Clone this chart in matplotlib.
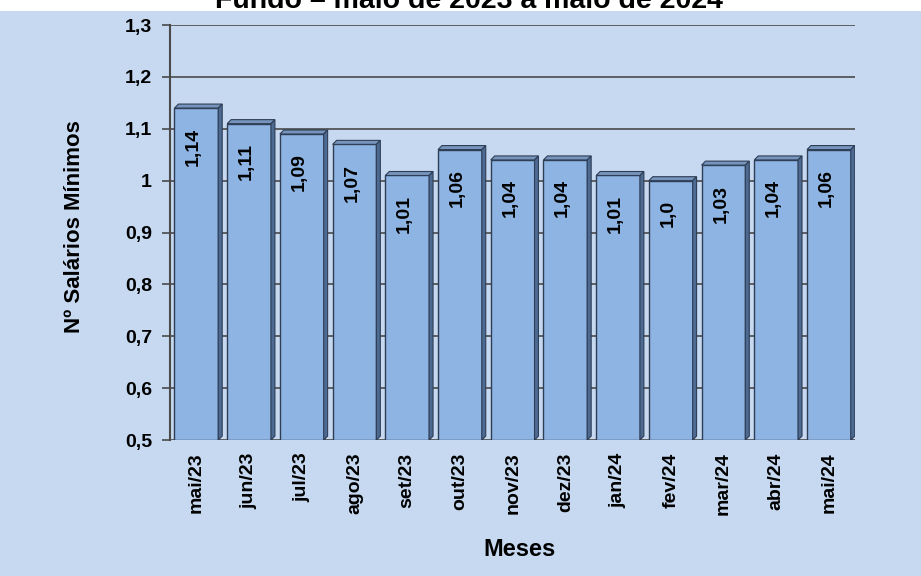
import numpy as np
import matplotlib.pyplot as plt
from matplotlib.patches import Polygon, Rectangle

plt.rcParams['font.family'] = ['Liberation Sans', 'DejaVu Sans']
plt.rcParams['font.weight'] = 'bold'

# data
meses = ['mai/23', 'jun/23', 'jul/23', 'ago/23', 'set/23', 'out/23', 'nov/23',
         'dez/23', 'jan/24', 'fev/24', 'mar/24', 'abr/24', 'mai/24']
valores = [1.14, 1.11, 1.09, 1.07, 1.01, 1.06, 1.04, 1.04, 1.01, 1.00, 1.03, 1.04, 1.06]
rotulos = ['1,14', '1,11', '1,09', '1,07', '1,01', '1,06', '1,04', '1,04', '1,01',
           '1,0', '1,03', '1,04', '1,06']
yticks = [0.5, 0.6, 0.7, 0.8, 0.9, 1.0, 1.1, 1.2, 1.3]
ytick_lbl = ['0,5', '0,6', '0,7', '0,8', '0,9', '1', '1,1', '1,2', '1,3']

bg = '#c6d9f0'
face = '#8db4e2'
top_c = '#7694bd'
side_c = '#4d6a93'
edge = '#2e3e55'

fig = plt.figure(figsize=(9.21, 5.76), dpi=100, facecolor='white')
# blue chart area below a thin white strip at the top
fig.add_artist(Rectangle((0, 0), 1, 565 / 576, transform=fig.transFigure,
                         facecolor=bg, edgecolor='none', zorder=-10))
ax = fig.add_axes([0.1846, 0.236, 0.744, 0.7205], facecolor=bg)

x = np.arange(len(meses))
w = 0.83
ymin = 0.5
dx, dy = 0.075, 0.0077

# back wall gridlines
for t in yticks:
    ax.axhline(t, color='#4a4a4a', lw=1.2, zorder=1)

bars = ax.bar(x, np.array(valores) - ymin, bottom=ymin, width=w, color=face,
              edgecolor=edge, linewidth=1.0, zorder=3)

# 3D faces
for xi, v in zip(x, valores):
    l, r = xi - w / 2, xi + w / 2
    ax.add_patch(Polygon([(l, v), (l + dx, v + dy), (r + dx, v + dy), (r, v)],
                         closed=True, facecolor=top_c, edgecolor=edge, lw=0.8, zorder=3))
    ax.add_patch(Polygon([(r, ymin), (r + dx, ymin + dy), (r + dx, v + dy), (r, v)],
                         closed=True, facecolor=side_c, edgecolor=edge, lw=0.8, zorder=3))

for xi, v, lbl in zip(x, valores, rotulos):
    ax.annotate(lbl, (xi - 0.05, v), xytext=(0, -14), textcoords='offset points',
                rotation=90, ha='center', va='top', fontsize=14, fontweight='bold', zorder=5)

ax.set_xlim(-0.5, 12.5)
ax.set_ylim(0.5, 1.3)
ax.set_yticks(yticks)
ax.set_yticklabels(ytick_lbl, fontsize=14, fontweight='bold')
ax.set_xticks(x)
ax.set_xticklabels(meses, rotation=90, fontsize=14, fontweight='bold')
ax.tick_params(axis='x', length=0, pad=9)
ax.tick_params(axis='y', length=6, width=1.2, color='#4a4a4a', pad=7)

for s in ['top', 'right', 'bottom']:
    ax.spines[s].set_visible(False)
ax.spines['left'].set_color('#4a4a4a')
ax.spines['left'].set_linewidth(1.5)

fig.text(0.564, 1 - 550 / 576, 'Meses', ha='center', va='center',
         fontsize=17, fontweight='bold')
fig.text(0.081, 0.606, 'Nº Salários Mínimos', ha='center', va='center', rotation=90,
         fontsize=16, fontweight='bold')
fig.text(0.509, 1 - 8 / 576, 'Fundo – maio de 2023 a maio de 2024', ha='center',
         va='baseline', fontsize=20.5, fontweight='bold')

fig.savefig('out.png', dpi=100, facecolor='white')
